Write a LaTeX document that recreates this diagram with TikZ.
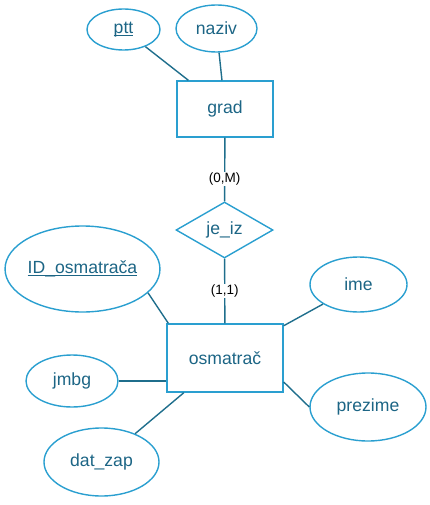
\documentclass[tikz,border=0pt]{standalone}
\usepackage{fontspec}
\setmainfont{Liberation Sans}
\usetikzlibrary{shapes.geometric}
\definecolor{bord}{HTML}{2A9FD0}
\definecolor{lnk}{HTML}{1F6E8C}
\definecolor{txt}{HTML}{1C6585}
\newcommand\myul[1]{\leavevmode\setbox0=\hbox{#1}\rlap{\copy0}\rule[-2.2pt]{\wd0}{1pt}}
\tikzset{
  attr/.style={ellipse, draw=bord, line width=1.4pt, inner sep=0pt, text=txt, font=\fontsize{17.6}{20}\selectfont},
  ent/.style={rectangle, draw=bord, line width=1.4pt, inner sep=0pt, text=txt, font=\fontsize{17.6}{20}\selectfont},
  rel/.style={diamond, draw=bord, line width=1.4pt, inner sep=0pt, aspect=1.73, text=txt, font=\fontsize{17.6}{20}\selectfont},
  conn/.style={draw=lnk, line width=1.4pt},
  card/.style={fill=white, inner sep=1pt, text=black, font=\fontsize{13.5}{15}\selectfont}
}
\begin{document}
\begin{tikzpicture}[x=1pt,y=-1pt]
\useasboundingbox (0,0) rectangle (430,505);
\node[attr, minimum width=73pt, minimum height=41pt] (ptt) at (123.5,29.5) {\myul{ptt}};
\node[attr, minimum width=81pt, minimum height=47pt] (naziv) at (216.5,28.5) {naziv};
\node[ent, minimum width=96pt, minimum height=56pt] (grad) at (225,109) {grad};
\node[rel, minimum width=97pt, minimum height=56pt] (jeiz) at (224.5,230) {je\_iz};
\node[ent, minimum width=116pt, minimum height=68pt] (osm) at (225,358) {osmatrač};
\node[attr, minimum width=153pt, minimum height=86pt] (id) at (82.5,269) {\myul{ID\_osmatrača}};
\node[attr, minimum width=97pt, minimum height=55pt] (ime) at (358.5,284.5) {ime};
\node[attr, minimum width=92pt, minimum height=52pt] (jmbg) at (72,381) {jmbg};
\node[attr, minimum width=116pt, minimum height=68pt] (prez) at (368,407) {prezime};
\node[attr, minimum width=115pt, minimum height=68pt] (dat) at (101.5,462) {dat\_zap};
\draw[conn] (ptt) -- (grad);
\draw[conn] (naziv) -- (grad);
\draw[conn] (grad) -- node[card, pos=0.65] {(0,M)} (jeiz);
\draw[conn] (jeiz) -- node[card, pos=0.5] {(1,1)} (osm);
\draw[conn] (id.-20) -- ([xshift=2pt]osm.north west);
\draw[conn] (ime) -- (osm);
\draw[conn] (jmbg.east) -- (osm.west |- jmbg.east);
\draw[conn] (prez.west) -- ([yshift=-24pt]osm.east);
\draw[conn] (dat) -- (osm);
\end{tikzpicture}
\end{document}
